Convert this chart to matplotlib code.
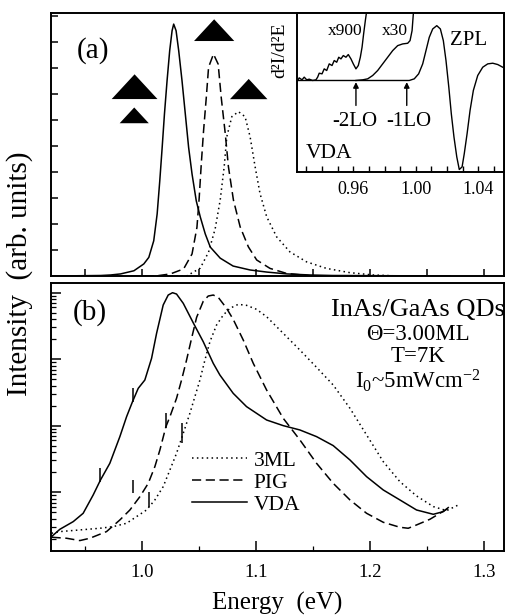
import numpy as np
import matplotlib
matplotlib.use("Agg")
import matplotlib.pyplot as plt
from matplotlib.ticker import MultipleLocator, LogLocator, NullFormatter, FixedLocator

plt.rcParams['font.family'] = ['Liberation Serif', 'DejaVu Serif']
plt.rcParams['mathtext.fontset'] = 'custom'
plt.rcParams['mathtext.rm'] = 'Liberation Serif'
plt.rcParams['mathtext.it'] = 'Liberation Serif:italic'

# ---- panel (a): linear PL spectra (energy in eV, intensity normalised to frame)
vda_a_E = [0.9208, 0.9636, 0.9723, 0.9810, 0.9927, 1.0014, 1.0058, 1.0101, 1.0131, 1.0154,
           1.0175, 1.0195, 1.0218, 1.0241, 1.0262, 1.0276, 1.0297, 1.0320, 1.0349, 1.0378,
           1.0407, 1.0437, 1.0474, 1.0509, 1.0553, 1.0597, 1.0684, 1.0797, 1.0946, 1.1094,
           1.1270, 1.1470, 1.1670, 1.2260, 1.2700]
vda_a_I = [0.000, 0.002, 0.004, 0.008, 0.020, 0.046, 0.071, 0.134, 0.236, 0.362,
           0.489, 0.616, 0.743, 0.857, 0.933, 0.958, 0.933, 0.857, 0.743, 0.616,
           0.489, 0.388, 0.286, 0.225, 0.160, 0.110, 0.068, 0.038, 0.023, 0.015,
           0.008, 0.004, 0.002, 0.001, 0.000]

pig_a_E = [0.9900, 1.0131, 1.0247, 1.0363, 1.0437, 1.0480, 1.0500, 1.0518, 1.0538, 1.0562,
           1.0582, 1.0625, 1.0666, 1.0693, 1.0728, 1.0756, 1.0800, 1.0859, 1.0931, 1.1004,
           1.1121, 1.1266, 1.1470, 1.2000]
pig_a_I = [0.000, 0.001, 0.008, 0.027, 0.084, 0.185, 0.299, 0.426, 0.552, 0.679,
           0.794, 0.844, 0.806, 0.679, 0.543, 0.416, 0.289, 0.187, 0.111, 0.061,
           0.029, 0.010, 0.001, 0.000]

ml3_a_E = [1.0000, 1.0393, 1.0509, 1.0582, 1.0640, 1.0684, 1.0719, 1.0742, 1.0786, 1.0844,
           1.0902, 1.0946, 1.0990, 1.1033, 1.1092, 1.1179, 1.1295, 1.1441, 1.1616, 1.1819,
           1.2023, 1.2256]
ml3_a_I = [0.000, 0.001, 0.030, 0.091, 0.180, 0.289, 0.416, 0.530, 0.606, 0.625,
           0.606, 0.530, 0.416, 0.314, 0.225, 0.149, 0.092, 0.054, 0.029, 0.013,
           0.004, 0.000]

# filled triangles in panel (a)
tri_E = [0.9933, 0.9930, 1.0631, 1.0934]
tri_I = [0.720, 0.611, 0.935, 0.711]
tri_w = [33, 21, 29, 27]

# ---- panel (b): log PL spectra (log10 intensity)
vda_b_E = [0.9205, 0.9278, 0.9395, 0.9482, 0.9570, 0.9634, 0.9716, 0.9804, 0.9863, 0.9915,
           0.9965, 1.0023, 1.0082, 1.0126, 1.0184, 1.0228, 1.0266, 1.0301, 1.0360, 1.0447,
           1.0535, 1.0623, 1.0681, 1.0798, 1.0915, 1.1091, 1.1237, 1.1383, 1.1529, 1.1675,
           1.1822, 1.1968, 1.2114, 1.2260, 1.2406, 1.2553, 1.2640, 1.2684]
vda_b_L = [-3.667, -3.557, -3.442, -3.317, -3.041, -2.816, -2.565, -2.164, -1.864, -1.638,
           -1.438, -1.313, -0.987, -0.611, -0.185, -0.035, 0.000, -0.020, -0.160, -0.451,
           -0.736, -1.062, -1.237, -1.513, -1.713, -1.914, -1.999, -2.064, -2.164, -2.299,
           -2.515, -2.766, -2.966, -3.116, -3.267, -3.332, -3.292, -3.231]

pig_b_E = [0.9205, 0.9336, 0.9453, 0.9541, 0.9687, 0.9804, 0.9892, 0.9980, 1.0053, 1.0111,
           1.0155, 1.0208, 1.0243, 1.0301, 1.0345, 1.0389, 1.0433, 1.0477, 1.0535, 1.0579,
           1.0623, 1.0667, 1.0740, 1.0798, 1.0886, 1.0974, 1.1091, 1.1237, 1.1383, 1.1529,
           1.1675, 1.1822, 1.1968, 1.2114, 1.2260, 1.2333, 1.2406, 1.2523, 1.2611, 1.2684]
pig_b_L = [-3.677, -3.692, -3.727, -3.692, -3.592, -3.417, -3.267, -3.066, -2.866, -2.615,
           -2.365, -2.014, -1.864, -1.588, -1.313, -1.012, -0.686, -0.371, -0.130, -0.050,
           -0.035, -0.070, -0.235, -0.401, -0.711, -1.062, -1.463, -1.889, -2.214, -2.565,
           -2.866, -3.116, -3.317, -3.452, -3.527, -3.542, -3.492, -3.407, -3.317, -3.242]

ml3_b_E = [0.9205, 0.9278, 0.9453, 0.9629, 0.9746, 0.9863, 0.9950, 1.0038, 1.0111, 1.0184,
           1.0243, 1.0301, 1.0360, 1.0418, 1.0462, 1.0506, 1.0550, 1.0594, 1.0652, 1.0711,
           1.0769, 1.0842, 1.0915, 1.1003, 1.1091, 1.1237, 1.1383, 1.1529, 1.1675, 1.1822,
           1.1968, 1.2114, 1.2260, 1.2406, 1.2553, 1.2670, 1.2772]
ml3_b_L = [-3.617, -3.592, -3.567, -3.542, -3.517, -3.467, -3.367, -3.267, -3.116, -2.916,
           -2.665, -2.415, -2.114, -1.814, -1.563, -1.313, -1.012, -0.736, -0.486, -0.336,
           -0.235, -0.175, -0.190, -0.250, -0.361, -0.611, -0.862, -1.122, -1.388, -1.738,
           -2.139, -2.540, -2.841, -3.056, -3.216, -3.277, -3.192]

# short vertical markers on the curves in (b)
mark_E = [0.9915, 0.9634, 1.0208, 0.9921, 1.0345, 1.0061]
mark_lo = [-1.638, -2.841, -2.039, -3.016, -2.265, -3.216]
mark_hi = [-1.438, -2.640, -1.814, -2.816, -1.964, -2.991]

# ---- inset: second derivative of VDA spectrum (arb. units)
zpl_E = [0.9244, 0.9958, 0.9990, 1.0018, 1.0044, 1.0065, 1.0086, 1.0108, 1.0134, 1.0157,
         1.0176, 1.0193, 1.0211, 1.0227, 1.0244, 1.0262, 1.0278, 1.0296, 1.0310, 1.0328,
         1.0347, 1.0368, 1.0396, 1.0428, 1.0460, 1.0492, 1.0524, 1.0556, 1.0590]
zpl_v = [0.000, 0.000, 0.030, 0.121, 0.303, 0.545, 0.788, 0.940, 1.000, 0.940,
         0.727, 0.364, -0.121, -0.606, -1.030, -1.394, -1.624, -1.576, -1.333, -0.970,
         -0.545, -0.182, 0.091, 0.242, 0.303, 0.315, 0.291, 0.242, 0.194]

x30_E = [0.9617, 0.9660, 0.9692, 0.9724, 0.9756, 0.9788, 0.9820, 0.9852, 0.9884, 0.9916,
         0.9948, 0.9963, 0.9976, 0.9984, 0.9990]
x30_v = [0.000, 0.012, 0.030, 0.091, 0.182, 0.303, 0.424, 0.545, 0.636, 0.667,
         0.679, 0.727, 0.909, 1.212, 1.300]

x900_E = [0.9244, 0.9254, 0.9272, 0.9286, 0.9302, 0.9318, 0.9340, 0.9361, 0.9372, 0.9382,
          0.9400, 0.9414, 0.9430, 0.9446, 0.9464, 0.9478, 0.9494, 0.9507, 0.9521, 0.9536,
          0.9553, 0.9568, 0.9585, 0.9600, 0.9617, 0.9632, 0.9645, 0.9656, 0.9666, 0.9677,
          0.9683, 0.9687]
x900_v = [0.000, 0.048, 0.012, 0.061, 0.012, 0.024, 0.000, 0.012, 0.061, 0.133,
          0.121, 0.212, 0.182, 0.303, 0.273, 0.364, 0.333, 0.424, 0.394, 0.455,
          0.424, 0.473, 0.394, 0.303, 0.212, 0.273, 0.424, 0.606, 0.848, 1.091,
          1.212, 1.300]

lo_E = [0.9617, 0.9942]

fig = plt.figure(figsize=(5.08, 6.16), dpi=100)
ax_a = fig.add_axes([0.1004, 0.5519, 0.8917, 0.4269])
ax_b = fig.add_axes([0.1004, 0.1055, 0.8917, 0.4351])
ax_in = fig.add_axes([0.5856, 0.7200, 0.4065, 0.2589])

lw = 1.1
for ax in (ax_a, ax_b, ax_in):
    for s in ax.spines.values():
        s.set_linewidth(1.4)

# panel (a)
ax_a.plot(vda_a_E, vda_a_I, color='k', lw=lw)
ax_a.plot(pig_a_E, pig_a_I, color='k', lw=lw, ls=(0, (6, 3)))
ax_a.plot(ml3_a_E, ml3_a_I, color='k', lw=lw, ls=(0, (1, 2.2)))
tri = [(-1, -0.54), (1, -0.54), (0, 0.54), (-1, -0.54)]
ax_a.scatter(tri_E, tri_I, s=np.array(tri_w) ** 2, marker=tri, c='k', linewidths=0, zorder=3)
ax_a.set_xlim(0.920, 1.3173)
ax_a.set_ylim(0, 1)
ax_a.xaxis.set_major_locator(MultipleLocator(0.05))
ax_a.yaxis.set_major_locator(FixedLocator(np.arange(1, 11) * 0.0989))
ax_a.tick_params(direction='in', length=5, width=1.1, labelbottom=False, labelleft=False)
ax_a.text(0.093, 0.859, '(a)', transform=ax_a.transAxes, fontsize=21, ha='center', va='center')

# panel (b)
ax_b.plot(ml3_b_E, 10 ** np.array(ml3_b_L), color='k', lw=lw, ls=(0, (1, 2.2)), label='3ML')
ax_b.plot(pig_b_E, 10 ** np.array(pig_b_L), color='k', lw=lw, ls=(0, (6, 3)), label='PIG')
ax_b.plot(vda_b_E, 10 ** np.array(vda_b_L), color='k', lw=lw, label='VDA')
ax_b.vlines(mark_E, 10 ** np.array(mark_lo), 10 ** np.array(mark_hi), color='k', lw=1.1)
ax_b.set_yscale('log')
ax_b.set_xlim(0.920, 1.3173)
ax_b.set_ylim(10 ** -3.884, 10 ** 0.146)
ax_b.xaxis.set_major_locator(MultipleLocator(0.1))
ax_b.xaxis.set_minor_locator(MultipleLocator(0.05))
ax_b.xaxis.set_major_formatter(plt.FuncFormatter(lambda v, p: f'{v:.1f}'))
ax_b.yaxis.set_major_locator(LogLocator(base=10, numticks=10))
ax_b.yaxis.set_minor_locator(LogLocator(base=10, subs=np.arange(2, 10), numticks=10))
ax_b.yaxis.set_major_formatter(NullFormatter())
ax_b.yaxis.set_minor_formatter(NullFormatter())
ax_b.tick_params(which='major', direction='in', length=7, width=1.1, labelsize=13.5, pad=9)
ax_b.tick_params(which='minor', direction='in', length=3.5, width=0.9)
ax_b.text(0.086, 0.888, '(b)', transform=ax_b.transAxes, fontsize=21, ha='center', va='center')
ax_b.text(0.81, 0.899, 'InAs/GaAs QDs', transform=ax_b.transAxes, fontsize=19, ha='center', va='center')
ax_b.text(0.81, 0.808, 'Θ=3.00ML', transform=ax_b.transAxes, fontsize=16.5, ha='center', va='center')
ax_b.text(0.81, 0.726, 'T=7K', transform=ax_b.transAxes, fontsize=16.5, ha='center', va='center')
ax_b.text(0.81, 0.636, r'I$_0$~5mWcm$^{-2}$', transform=ax_b.transAxes, fontsize=16.5,
          ha='center', va='center')
ax_b.legend(loc='upper left', bbox_to_anchor=(0.311, 0.375), frameon=False, fontsize=15.5,
            handlelength=2.56, handletextpad=0.3, labelspacing=0.1, borderpad=0,
            borderaxespad=0)

# inset
ax_in.set_facecolor('white')
ax_in.plot(zpl_E, zpl_v, color='k', lw=1.0)
ax_in.plot(x30_E, x30_v, color='k', lw=1.0)
ax_in.plot(x900_E, x900_v, color='k', lw=1.0)
for e in lo_E:
    ax_in.annotate('', xy=(e, -0.03), xytext=(e, -0.455),
                   arrowprops=dict(arrowstyle='-|>', color='k', lw=1.0, mutation_scale=8,
                                   shrinkA=0, shrinkB=0))
ax_in.set_xlim(0.9243, 1.0564)
ax_in.set_ylim(-1.678, 1.231)
ax_in.xaxis.set_major_locator(FixedLocator([0.96, 1.00, 1.04]))
ax_in.xaxis.set_minor_locator(MultipleLocator(0.01))
ax_in.xaxis.set_major_formatter(plt.FuncFormatter(lambda v, p: f'{v:.2f}'))
ax_in.tick_params(which='both', direction='in', length=4, width=1.0, labelsize=13, pad=6)
ax_in.set_yticks([])

t_kw = dict(ha='center', va='center')
for txt, (px, py), fs in [('x900', (345, 30.7), 12.5), ('x30', (395, 30.7), 12.5),
                          ('ZPL', (469, 40.7), 15), ('-2LO', (355, 122), 15),
                          ('-1LO', (408.5, 122), 15), ('VDA', (329, 154), 15.5)]:
    fig.text(px / 508, 1 - py / 616, txt, fontsize=fs, **t_kw)
fig.text(280 / 508, 1 - 50 / 616, 'd²I/d²E', fontsize=14, rotation=90, **t_kw)

fig.text(20 / 508, 1 - 274 / 616, 'Intensity  (arb. units)', fontsize=21, rotation=90, **t_kw)
fig.text(277.5 / 508, 1 - 603 / 616, 'Energy  (eV)', fontsize=18, **t_kw)

fig.savefig('out.png', dpi=100)
